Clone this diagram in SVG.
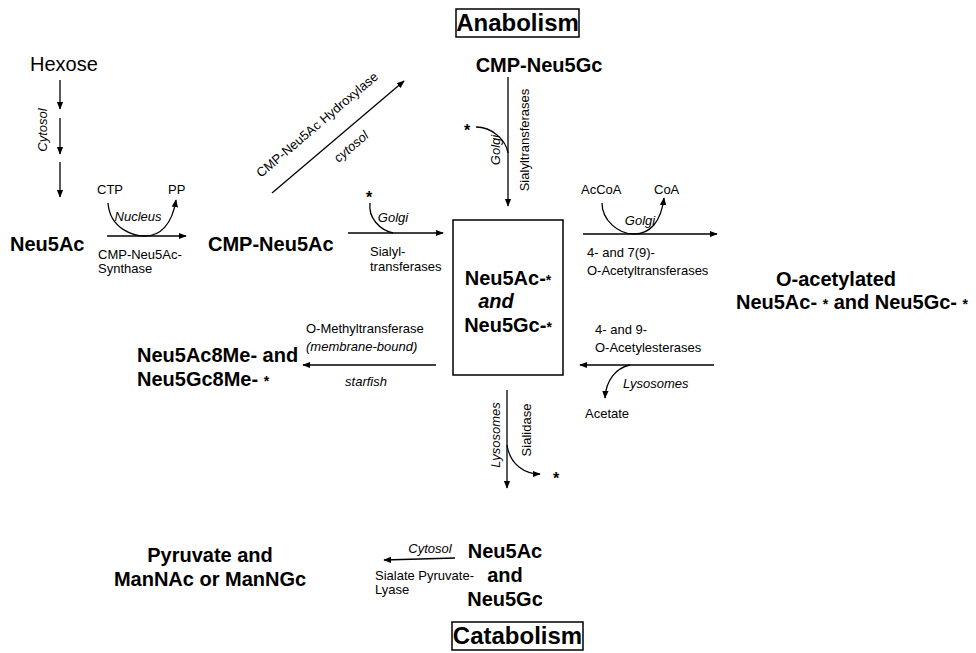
<svg xmlns="http://www.w3.org/2000/svg" width="976" height="653" viewBox="0 0 976 653">
<defs>
<marker id="ah" viewBox="0 0 10 10" refX="9" refY="5" markerWidth="8" markerHeight="8" markerUnits="userSpaceOnUse" orient="auto">
<path d="M0,1 L10,5 L0,9 Z" fill="#000"/>
</marker>
</defs>
<style>
text{font-family:"Liberation Sans",Arial,sans-serif;fill:#000}
.b{font-weight:bold;font-size:20px}
.t{font-size:24px;font-weight:bold}
.s{font-size:13px}
.i{font-size:13px;font-style:italic}
.n{font-size:20px}
.st{font-size:16px;font-weight:bold}
.ln{stroke:#000;stroke-width:1.3;fill:none}
.ar{stroke:#000;stroke-width:1.3;fill:none;marker-end:url(#ah)}
.bx{stroke:#000;stroke-width:1.5;fill:none}
</style>
<rect width="976" height="653" fill="#fff"/>

<g id="anabolism">
<rect class="bx" x="456" y="9" width="123" height="28"/>
<text class="t" x="517.5" y="31" text-anchor="middle">Anabolism</text>
</g>
<g id="catabolism">
<rect class="bx" x="452" y="622" width="131" height="28"/>
<text class="t" x="517.5" y="644" text-anchor="middle">Catabolism</text>
</g>

<g id="hexose"><text class="n" x="30" y="71">Hexose</text></g>
<g id="neu5ac"><text class="b" x="10" y="251">Neu5Ac</text></g>
<g id="cmp-neu5ac"><text class="b" x="208" y="251">CMP-Neu5Ac</text></g>
<g id="cmp-neu5gc"><text class="b" x="539" y="72" text-anchor="middle">CMP-Neu5Gc</text></g>
<g id="center">
<rect class="bx" x="453" y="220" width="110" height="155"/>
<text class="b" x="508" y="285" text-anchor="middle">Neu5Ac-<tspan font-size="14">*</tspan></text>
<text class="b" x="496" y="308" text-anchor="middle" font-style="italic">and</text>
<text class="b" x="508" y="332" text-anchor="middle">Neu5Gc-<tspan font-size="14">*</tspan></text>
</g>
<g id="oacetyl">
<text class="b" x="836" y="286" text-anchor="middle">O-acetylated</text>
<text class="b" x="852" y="309" text-anchor="middle">Neu5Ac- <tspan font-size="14">*</tspan> and Neu5Gc- <tspan font-size="14">*</tspan></text>
</g>
<g id="methyl">
<text class="b" x="137" y="362">Neu5Ac8Me- and</text>
<text class="b" x="137" y="386">Neu5Gc8Me- <tspan font-size="14">*</tspan></text>
</g>
<g id="free">
<text class="b" x="505" y="558" text-anchor="middle">Neu5Ac</text>
<text class="b" x="505" y="582" text-anchor="middle">and</text>
<text class="b" x="505" y="606" text-anchor="middle">Neu5Gc</text>
</g>
<g id="pyruvate">
<text class="b" x="210" y="562" text-anchor="middle">Pyruvate and</text>
<text class="b" x="210" y="586" text-anchor="middle">ManNAc or ManNGc</text>
</g>

<g id="connectors">
<!-- hexose to Neu5Ac -->
<line class="ar" x1="60" y1="80" x2="60" y2="109"/>
<line class="ar" x1="60" y1="118" x2="60" y2="154"/>
<line class="ar" x1="60" y1="162" x2="60" y2="197"/>
<text class="i" transform="translate(47,130) rotate(-90)" text-anchor="middle">Cytosol</text>

<!-- CMP-Neu5Ac synthase -->
<line class="ar" x1="107" y1="236" x2="186" y2="236"/>
<path class="ar" d="M108,203 C110,230 135,236 145,236 C160,236 172,225 176,200"/>
<text class="s" x="97" y="194">CTP</text>
<text class="s" x="168" y="194">PP</text>
<text class="i" x="138" y="221" text-anchor="middle">Nucleus</text>
<text class="s" x="98" y="259">CMP-Neu5Ac-</text>
<text class="s" x="98" y="273">Synthase</text>

<!-- hydroxylase -->
<line class="ar" x1="272" y1="193" x2="404" y2="81"/>
<text class="s" transform="translate(320,128) rotate(-40.3)" text-anchor="middle">CMP-Neu5Ac Hydroxylase</text>
<text class="i" transform="translate(354,150) rotate(-40.3)" text-anchor="middle">cytosol</text>

<!-- sialyltransferase horizontal -->
<line class="ar" x1="348" y1="233" x2="443" y2="233"/>
<path class="ln" d="M370,203 C368,218 380,230 393,233"/>
<text class="st" x="369" y="203" text-anchor="middle">*</text>
<text class="i" x="393" y="222" text-anchor="middle">Golgi</text>
<text class="s" x="370" y="256">Sialyl-</text>
<text class="s" x="370" y="271">transferases</text>

<!-- sialyltransferases vertical -->
<line class="ar" x1="508" y1="77" x2="508" y2="206"/>
<path class="ln" d="M476,127 C492,127 506,140 508,153"/>
<text class="st" x="467" y="136" text-anchor="middle">*</text>
<text class="i" transform="translate(500,150) rotate(-90)" text-anchor="middle">Golgi</text>
<text class="s" transform="translate(529,140) rotate(-90)" text-anchor="middle">Sialyltransferases</text>

<!-- O-acetyltransferases -->
<line class="ar" x1="583" y1="234" x2="717" y2="234"/>
<path class="ar" d="M602,203 C602,220 618,234 634,234 C650,234 661,222 664,198"/>
<text class="s" x="581" y="194">AcCoA</text>
<text class="s" x="654" y="194">CoA</text>
<text class="i" x="640" y="225" text-anchor="middle">Golgi</text>
<text class="s" x="587" y="257">4- and 7(9)-</text>
<text class="s" x="587" y="275">O-Acetyltransferases</text>

<!-- O-acetylesterases -->
<line class="ar" x1="714" y1="365" x2="580" y2="365"/>
<path class="ar" d="M630,365 C616,368 606,380 605,398"/>
<text class="s" x="595" y="334">4- and 9-</text>
<text class="s" x="595" y="352">O-Acetylesterases</text>
<text class="i" x="623" y="388">Lysosomes</text>
<text class="s" x="585" y="418">Acetate</text>

<!-- O-methyltransferase -->
<line class="ar" x1="436" y1="365" x2="303" y2="365"/>
<text class="s" x="306" y="333">O-Methyltransferase</text>
<text class="i" x="306" y="351">(membrane-bound)</text>
<text class="i" x="366" y="386" text-anchor="middle">starfish</text>

<!-- sialidase -->
<line class="ar" x1="507" y1="390" x2="507" y2="488"/>
<path class="ar" d="M507,445 C510,465 525,474 540,474"/>
<text class="st" x="556" y="484" text-anchor="middle">*</text>
<text class="i" transform="translate(500,435) rotate(-90)" text-anchor="middle">Lysosomes</text>
<text class="s" transform="translate(531,430) rotate(-90)" text-anchor="middle">Sialidase</text>

<!-- lyase -->
<line class="ar" x1="455" y1="558" x2="384" y2="560"/>
<text class="i" x="430" y="553" text-anchor="middle">Cytosol</text>
<text class="s" x="375" y="580">Sialate Pyruvate-</text>
<text class="s" x="375" y="594">Lyase</text>
</g>
</svg>
